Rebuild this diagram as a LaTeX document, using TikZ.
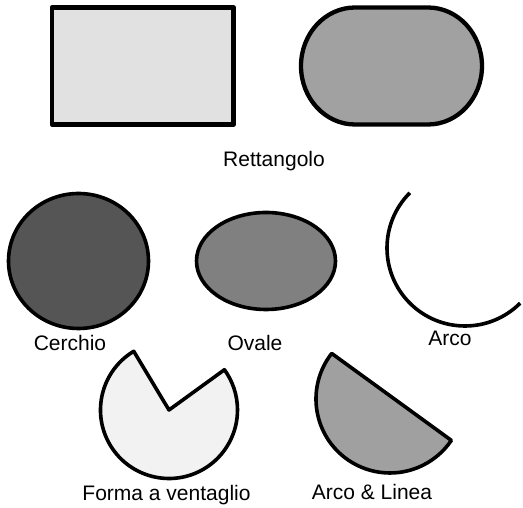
\documentclass[tikz,border=0pt]{standalone}
\usepackage{fontspec}
\setmainfont{Liberation Sans}
\begin{document}
\begin{tikzpicture}[x=1pt,y=1pt,
  thick/.style={draw=black,line width=4.3pt,line join=round},
  shp/.style={draw=black,line width=3.6pt,line join=round},
  lbl/.style={anchor=base,inner sep=0pt,font=\fontsize{21}{25}\selectfont}]
\useasboundingbox (0,0) rectangle (523,508);
% Rettangolo
\path[thick,fill={rgb,255:red,225;green,225;blue,225}] (52,500.5) rectangle (233.5,383.5);
% rounded rectangle
\path[thick,fill={rgb,255:red,161;green,161;blue,161}]
  (355,500.5) -- (428,500.5) arc[start angle=90,end angle=-90,x radius=54,y radius=58.5]
  -- (355,383.5) arc[start angle=270,end angle=90,x radius=54,y radius=58.5] -- cycle;
\node[lbl] (rett) at (274,341) {Rettangolo};
% Cerchio
\path[shp,fill={rgb,255:red,85;green,85;blue,85}] (78.5,247) ellipse[x radius=70,y radius=67.5];
\node[lbl] (cerchio) at (70,157) {Cerchio};
% Ovale
\path[shp,fill={rgb,255:red,128;green,128;blue,128}] (266,247) ellipse[x radius=69.5,y radius=48.5];
\node[lbl] (ovale) at (255,157) {Ovale};
% Arco
\draw[shp] (465,260) ++(135:78) arc[start angle=135,end angle=315,radius=78];
\node[lbl] (arco) at (450,162) {Arco};
% Forma a ventaglio
\path[shp,fill={rgb,255:red,242;green,242;blue,242}]
  (169,98) -- ++(121:68.5) arc[start angle=121,end angle=396,radius=68.5] -- cycle;
\node[lbl] (vent) at (166.5,7) {Forma a ventaglio};
% Arco & Linea
\path[shp,fill={rgb,255:red,160;green,160;blue,160}]
  (390,109) ++(142:74) arc[start angle=142,end angle=326,radius=74] -- cycle;
\node[lbl] (arcolinea) at (372,8) {Arco \& Linea};
\end{tikzpicture}
\end{document}
